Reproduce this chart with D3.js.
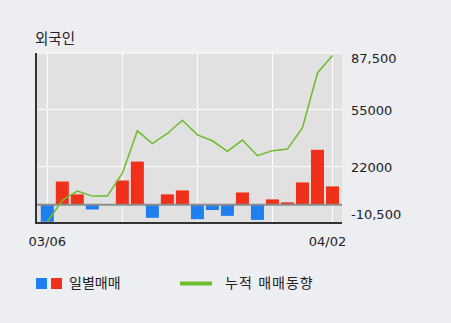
<!DOCTYPE html>
<html>
<head>
<meta charset="utf-8">
<script src="https://cdn.jsdelivr.net/npm/d3@7"></script>
<style>
  body { margin: 0; background: #edeef2; }
  svg { display: block; font-family: 'DejaVu Sans', 'Noto Sans CJK KR', sans-serif; }
</style>
</head>
<body>
<svg class="chart" width="451" height="323"></svg>
<script>
const dates = ['03/06', '03/07', '03/08', '03/11', '03/12', '03/13', '03/14', '03/15', '03/18', '03/19',
  '03/20', '03/21', '03/22', '03/25', '03/26', '03/27', '03/28', '03/29', '04/01', '04/02'];
const daily = [-9800, 13400, 6000, -2700, 0, 14000, 24900, -7500, 6000, 8300,
  -8300, -3000, -6400, 7100, -8700, 3100, 1400, 12900, 31700, 10600];
const cumulative = [-9800, 2600, 7900, 5000, 5000, 18200, 42600, 35300, 41100, 48700,
  40300, 36900, 30800, 37300, 28300, 31200, 32100, 44500, 76000, 86100];
const yTicks = [-10500, 22000, 55000, 87500];
const yTickLabels = ['-10,500', '22000', '55000', '87,500'];
const gridIdx = [0, 5, 10, 15, 19];

const margin = { top: 53, right: 109, bottom: 100, left: 36 };
const width = 451 - margin.left - margin.right;
const height = 323 - margin.top - margin.bottom;
const barWidth = 13;

const svg = d3.select('.chart');
const g = svg.append('g')
  .attr('transform', `translate(${margin.left}, ${margin.top})`);

const x = d3.scalePoint()
  .domain(dates)
  .range([11.3, 296.5]);

const y = d3.scaleLinear()
  .domain([-10500, 87500])
  .range([height, 0]);

// plot background
g.append('rect')
  .attr('width', width)
  .attr('height', height)
  .attr('fill', '#e1e1e1');

g.selectAll('.hgrid')
  .data(yTicks)
  .enter()
  .append('line')
  .attr('class', 'hgrid')
  .attr('x1', 0)
  .attr('x2', width)
  .attr('y1', d => y(d))
  .attr('y2', d => y(d))
  .attr('stroke', '#fff')
  .attr('stroke-width', 1);

g.selectAll('.vgrid')
  .data(gridIdx)
  .enter()
  .append('line')
  .attr('class', 'vgrid')
  .attr('x1', d => x(dates[d]))
  .attr('x2', d => x(dates[d]))
  .attr('y1', 0)
  .attr('y2', height)
  .attr('stroke', '#fff')
  .attr('stroke-width', 1);

g.selectAll('.bar')
  .data(daily)
  .enter()
  .append('rect')
  .attr('class', 'bar')
  .attr('x', (d, i) => x(dates[i]) - barWidth / 2)
  .attr('y', d => y(Math.max(0, d)))
  .attr('width', barWidth)
  .attr('height', d => Math.abs(y(d) - y(0)))
  .attr('fill', d => (d < 0 ? '#1f7ef0' : '#f0301a'));

// zero line
g.append('line')
  .attr('x1', 0)
  .attr('x2', width)
  .attr('y1', y(0))
  .attr('y2', y(0))
  .attr('stroke', '#8c8c8c')
  .attr('stroke-width', 2);

const line = d3.line()
  .x((d, i) => x(dates[i]))
  .y(d => y(d));

g.append('path')
  .datum(cumulative)
  .attr('d', line)
  .attr('fill', 'none')
  .attr('stroke', '#6cbd2c')
  .attr('stroke-width', 1.5);

// axis lines
g.append('line')
  .attr('x1', 0)
  .attr('x2', 0)
  .attr('y1', 0)
  .attr('y2', height + 1)
  .attr('stroke', '#333')
  .attr('stroke-width', 2);

g.append('line')
  .attr('x1', -1)
  .attr('x2', width)
  .attr('y1', height)
  .attr('y2', height)
  .attr('stroke', '#333')
  .attr('stroke-width', 2);

// right labels
g.selectAll('.ylabel')
  .data(yTicks)
  .enter()
  .append('text')
  .attr('class', 'ylabel')
  .attr('x', width + 9)
  .attr('y', (d, i) => {
    if (i === 0) return y(d) - 9;
    if (i === yTicks.length - 1) return y(d) + 5;
    return y(d) + 1;
  })
  .attr('dy', '0.35em')
  .attr('font-size', 13)
  .attr('fill', '#222')
  .text((d, i) => yTickLabels[i]);

// x labels
g.append('text')
  .attr('x', x(dates[0]))
  .attr('y', height + 18)
  .attr('dy', '0.35em')
  .attr('text-anchor', 'middle')
  .attr('font-size', 13)
  .attr('fill', '#222')
  .text(dates[0]);

g.append('text')
  .attr('x', x(dates[dates.length - 1]) - 5)
  .attr('y', height + 18)
  .attr('dy', '0.35em')
  .attr('text-anchor', 'middle')
  .attr('font-size', 13)
  .attr('fill', '#222')
  .text(dates[dates.length - 1]);

// title
svg.append('text')
  .attr('x', 35)
  .attr('y', 44)
  .attr('font-size', 14.5)
  .attr('fill', '#222')
  .text('외국인');

// legend
const legend = svg.append('g')
  .attr('transform', 'translate(36, 278)');

legend.append('rect')
  .attr('width', 11)
  .attr('height', 11)
  .attr('fill', '#1f7ef0');

legend.append('rect')
  .attr('x', 15)
  .attr('width', 11)
  .attr('height', 11)
  .attr('fill', '#f0301a');

legend.append('text')
  .attr('x', 33)
  .attr('y', 5.5)
  .attr('dy', '0.35em')
  .attr('font-size', 14)
  .attr('fill', '#222')
  .text('일별매매');

legend.append('line')
  .attr('x1', 144)
  .attr('x2', 176)
  .attr('y1', 5.5)
  .attr('y2', 5.5)
  .attr('stroke', '#6cbd2c')
  .attr('stroke-width', 4);

legend.append('text')
  .attr('x', 189)
  .attr('y', 5.5)
  .attr('dy', '0.35em')
  .attr('font-size', 14)
  .attr('letter-spacing', 1)
  .attr('fill', '#222')
  .text('누적 매매동향');
</script>
</body>
</html>
